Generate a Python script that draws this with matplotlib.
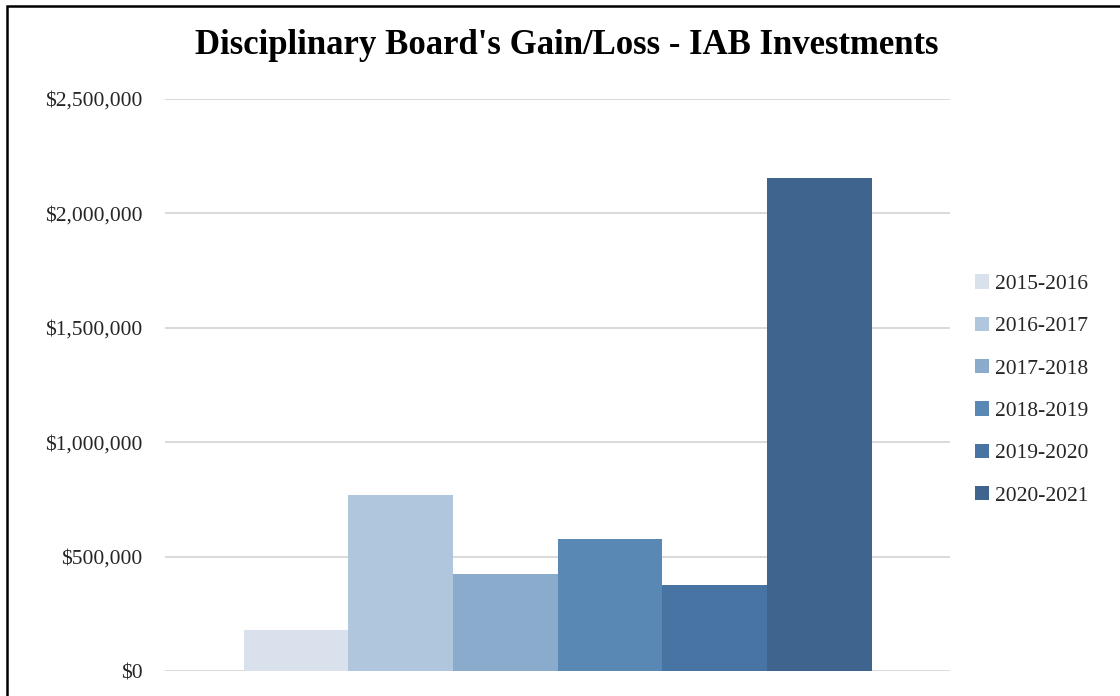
import matplotlib

matplotlib.use("Agg")
import matplotlib.pyplot as plt
from matplotlib.patches import Rectangle
from matplotlib.ticker import FuncFormatter

# values
years = ["2015-2016", "2016-2017", "2017-2018", "2018-2019", "2019-2020", "2020-2021"]
gains = [179000, 769000, 424000, 577000, 376000, 2155000]
colors = ["#D9E2EC", "#B0C6DD", "#8AABCB", "#5A88B4", "#4874A4", "#3F648D"]
yticks = [0, 500000, 1000000, 1500000, 2000000, 2500000]

plt.rcParams["font.family"] = ["Liberation Serif", "DejaVu Serif"]

fig = plt.figure(figsize=(11.2, 6.96), dpi=100)
ax = fig.add_axes([165 / 1120, 1 - 671 / 696, 785 / 1120, 572 / 696])

n = len(years)
for i, (lab, v, c) in enumerate(zip(years, gains, colors)):
    ax.bar(i - (n - 1) / 2, v, width=1.0, color=c, label=lab, zorder=3)

ax.set_xlim(-n / 0.8 / 2, n / 0.8 / 2)
ax.set_ylim(0, 2500000)
ax.set_yticks(yticks)
ax.yaxis.set_major_formatter(FuncFormatter(lambda v, _: f"${v:,.0f}"))
ax.set_xticks([])
ax.tick_params(axis="y", length=0, pad=16, labelsize=15.5, labelcolor="#262626")
ax.grid(axis="y", color="#D9D9D9", lw=1.4, zorder=0)
for s in ax.spines.values():
    s.set_visible(False)

fig.text(567 / 1120, 1 - 46 / 696, "Disciplinary Board's Gain/Loss - IAB Investments",
         ha="center", va="center", fontsize=25, fontweight="bold")

leg = fig.legend(loc="center left", bbox_to_anchor=(966 / 1120, 1 - 390 / 696),
                 frameon=False, fontsize=15.5, handlelength=0.65, handleheight=0.65,
                 handletextpad=0.3, labelspacing=1.05, borderaxespad=0)
for t in leg.get_texts():
    t.set_color("#262626")

# chart border (right and bottom edges are cropped in the reference)
fig.add_artist(Rectangle((7 / 1120, -0.1), 1.2, 1.1 - 5.5 / 696, fill=False,
                         lw=1.8, edgecolor="black", transform=fig.transFigure))

fig.savefig("out.png", dpi=100)
